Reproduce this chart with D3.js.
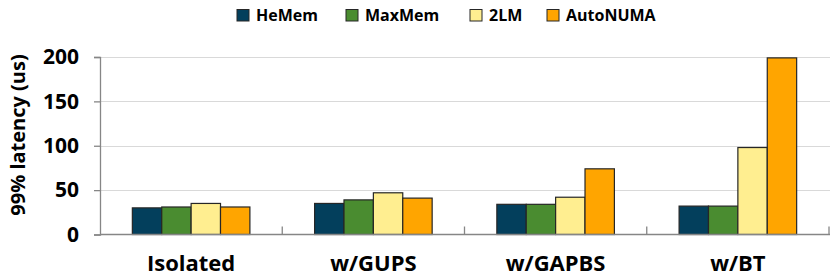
<!DOCTYPE html>
<html>
<head>
<meta charset="utf-8">
<script src="https://cdn.jsdelivr.net/npm/d3@7"></script>
<style>
  body { margin: 0; background: #fff; }
  text { font-family: "Open Sans", sans-serif; font-weight: bold; fill: #000; }
</style>
</head>
<body>
<script>
  // the chart data
  var categories = ["Isolated", "w/GUPS", "w/GAPBS", "w/BT"];
  var seriesNames = ["HeMem", "MaxMem", "2LM", "AutoNUMA"];
  var hemem = [30, 35, 34, 32];
  var maxmem = [31, 39, 34, 32];
  var twolm = [35, 47, 42, 98];
  var autonuma = [31, 41, 74, 199];
  var yTicks = [0, 50, 100, 150, 200];
  var colors = ["#033f5c", "#4a8c30", "#ffee90", "#ffa500"];

  var series = [hemem, maxmem, twolm, autonuma];

  var width = 830;
  var height = 277;
  var plotLeft = 100, plotRight = 829, plotTop = 57, plotBottom = 234.5;

  var svg = d3.select("body")
              .append("svg")
              .attr("width", width)
              .attr("height", height);

  // scales
  var yScale = d3.scaleLinear()
                 .domain([0, 200])
                 .range([plotBottom, plotTop]);

  var xScale = d3.scaleBand()
                 .domain(categories)
                 .range([plotLeft, plotRight]);

  var xInner = d3.scaleBand()
                 .domain(seriesNames)
                 .range([0, xScale.bandwidth() * 0.645])
                 .padding(0);

  // gridlines
  svg.selectAll("line.grid")
     .data(yTicks.slice(1))
     .enter()
     .append("line")
     .attr("x1", plotLeft)
     .attr("x2", width)
     .attr("y1", function(d){ return Math.round(yScale(d)) + 0.5; })
     .attr("y2", function(d){ return Math.round(yScale(d)) + 0.5; })
     .attr("stroke", "#d9d9d9")
     .attr("stroke-width", 1.2);

  // bars
  var groupOffset = (xScale.bandwidth() - xInner.range()[1]) / 2;
  var groups = svg.selectAll("g.group")
                  .data(categories)
                  .enter()
                  .append("g")
                  .attr("transform", function(d){
                    return "translate(" + (xScale(d) + groupOffset) + ",0)";
                  });

  groups.selectAll("rect")
        .data(function(d, i){
          return series.map(function(s, j){ return {name: seriesNames[j], value: s[i], color: colors[j]}; });
        })
        .enter()
        .append("rect")
        .attr("x", function(d){ return xInner(d.name); })
        .attr("width", xInner.bandwidth())
        .attr("y", function(d){ return yScale(d.value); })
        .attr("height", function(d){ return plotBottom - yScale(d.value); })
        .attr("fill", function(d){ return d.color; })
        .attr("stroke", "#262626")
        .attr("stroke-width", 1.2);

  // y axis
  var yAxis = d3.axisLeft(yScale)
                .tickValues(yTicks)
                .tickSize(6)
                .tickPadding(15);

  var gy = svg.append("g")
              .attr("transform", "translate(" + plotLeft + ",0)")
              .call(yAxis);
  gy.select(".domain").attr("stroke", "#868686").attr("stroke-width", 1.3);
  gy.selectAll(".tick line").attr("stroke", "#868686").attr("stroke-width", 1.3);
  gy.selectAll(".tick text")
    .style("font-size", "21px")
    .style("font-family", "'Open Sans', sans-serif")
    .attr("fill", "#000");

  // x axis baseline
  svg.append("line")
     .attr("x1", plotLeft)
     .attr("x2", width)
     .attr("y1", plotBottom)
     .attr("y2", plotBottom)
     .attr("stroke", "#868686")
     .attr("stroke-width", 1.3);

  // ticks between categories
  var boundaries = categories.map(function(d){ return xScale(d) + xScale.bandwidth(); });
  svg.selectAll("line.xtick")
     .data(boundaries)
     .enter()
     .append("line")
     .attr("x1", function(d){ return d; })
     .attr("x2", function(d){ return d; })
     .attr("y1", plotBottom - 8)
     .attr("y2", plotBottom)
     .attr("stroke", "#868686")
     .attr("stroke-width", 1.3);

  // category labels
  svg.selectAll("text.cat")
     .data(categories)
     .enter()
     .append("text")
     .attr("x", function(d){ return xScale(d) + xScale.bandwidth() / 2; })
     .attr("y", 271)
     .attr("text-anchor", "middle")
     .style("font-size", "22px")
     .text(function(d){ return d; });

  // y axis title
  svg.append("text")
     .attr("text-anchor", "middle")
     .attr("transform", "translate(25," + 135 + ")rotate(-90)")
     .style("font-size", "20px")
     .text("99% latency (us)");

  // legend
  var legendX = [237, 346, 470, 547];
  var legend = svg.selectAll("g.legend")
                  .data(seriesNames)
                  .enter()
                  .append("g")
                  .attr("transform", function(d, i){ return "translate(" + legendX[i] + ",9.5)"; });

  legend.append("rect")
        .attr("width", 12)
        .attr("height", 11.5)
        .attr("fill", function(d, i){ return colors[i]; })
        .attr("stroke", "#262626")
        .attr("stroke-width", 1);

  legend.append("text")
        .attr("x", 19)
        .attr("y", 11.5)
        .style("font-size", "16px")
        .text(function(d){ return d; });
</script>
</body>
</html>
